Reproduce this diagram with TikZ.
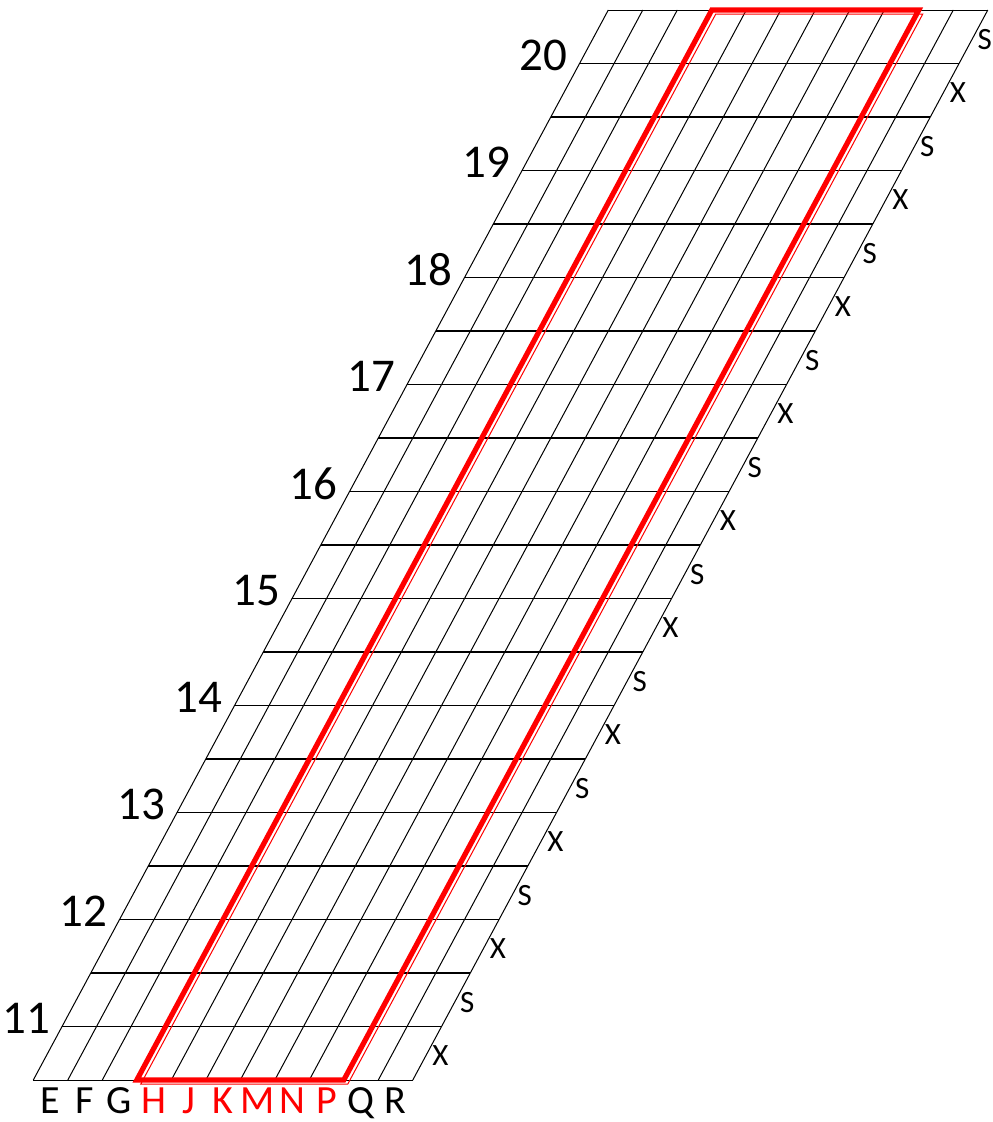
\documentclass[tikz,border=0pt]{standalone}
\usepackage{fontspec}
\setmainfont{Carlito}
\usetikzlibrary{calc}
\begin{document}
\begin{tikzpicture}[x=1pt,y=-1pt,
 gridthin/.style={line width=1pt, draw=black},
 gridthick/.style={line width=2pt, draw=black},
 numlabel/.style={font=\fontsize{47}{47}\selectfont, anchor=east, inner sep=0pt},
 collabel/.style={font=\fontsize{40}{40}\selectfont, inner sep=0pt, anchor=base},
 sxlabel/.style={font=\fontsize{31}{31}\selectfont, anchor=west, inner sep=0pt},
 redbox/.style={draw=red, line width=5.2pt, line join=miter},
 redthin/.style={draw=red, line width=1pt, line join=miter}]
\useasboundingbox (0,0) rectangle (993,1122);
\def\ox{33.3}\def\oy{1080}\def\cw{34.5}\def\rh{53.5}\def\sk{28.75}
% grid corner coordinates
\foreach \j in {0,...,20}{
  \foreach \i in {0,...,11}{
    \coordinate (p-\i-\j) at ({\ox+\i*\cw+\j*\sk},{\oy-\j*\rh});
  }
}
% horizontal lines
\foreach \j in {0,...,20}{
  \pgfmathtruncatemacro{\ev}{(mod(\j,2)==0 && \j>0 && \j<20) ? 1 : 0}
  \ifnum\ev=1
    \draw[gridthick] (p-0-\j) -- (p-11-\j);
  \else
    \draw[gridthin] (p-0-\j) -- (p-11-\j);
  \fi
}
% slanted lines
\foreach \i in {0,...,11}{
  \draw[gridthin] (p-\i-0) -- (p-\i-20);
}
% red box
\draw[redbox] (p-3-0) -- (p-9-0) -- (p-9-20) -- (p-3-20) -- cycle;
\draw[redthin, transform canvas={xshift=4pt, yshift=-4pt}] (p-3-0) -- (p-9-0) -- (p-9-20) -- (p-3-20) -- cycle;
% row numbers
\foreach \k in {1,...,10}{
  \pgfmathtruncatemacro{\jj}{2*\k-1}
  \pgfmathtruncatemacro{\nn}{10+\k}
  \node[numlabel, xshift=-12pt, yshift=8pt] (num-\k) at (p-0-\jj) {\nn};
}
% column labels
\foreach \i/\t/\c in {0/E/black,1/F/black,2/G/black,3/H/red,4/J/red,5/K/red,6/M/red,7/N/red,8/P/red,9/Q/black,10/R/black}{
  \pgfmathtruncatemacro{\ii}{\i+1}
  \node[collabel, text=\c, yshift=-33pt] (col-\i) at ($(p-\i-0)!0.5!(p-\ii-0)$) {\t};
}
% S / X labels
\foreach \j in {0,...,19}{
  \pgfmathtruncatemacro{\jn}{\j+1}
  \pgfmathtruncatemacro{\od}{mod(\j,2)}
  \ifnum\od=0
    \node[sxlabel, xshift=5pt, yshift=-2pt] (sx-\j) at ($(p-11-\j)!0.5!(p-11-\jn)$) {X};
  \else
    \node[sxlabel, xshift=4pt, yshift=-3pt] (sx-\j) at ($(p-11-\j)!0.5!(p-11-\jn)$) {S};
  \fi
}
\end{tikzpicture}
\end{document}
